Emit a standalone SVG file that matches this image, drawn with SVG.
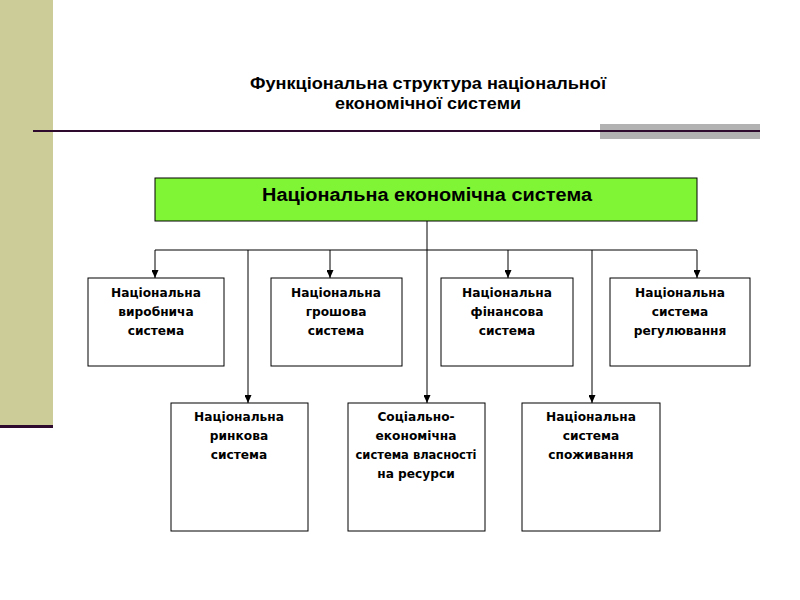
<svg xmlns="http://www.w3.org/2000/svg" width="800" height="600" viewBox="0 0 800 600">
<style>
.box{fill:#fff;stroke:#000;stroke-width:1}
.t{font-family:"DejaVu Sans","Liberation Sans",sans-serif;font-weight:bold;font-size:12.2px;text-anchor:middle;fill:#000}
.title{font-family:"Liberation Sans",Arial,sans-serif;font-weight:bold;font-size:16px;text-anchor:middle;fill:#000}
.c{stroke:#000;stroke-width:1;fill:none}
</style>
<defs>
<marker id="ah" markerWidth="8" markerHeight="7" refX="8" refY="3.5" orient="auto" markerUnits="userSpaceOnUse" viewBox="0 0 8 7">
<path d="M0,0 L8,3.5 L0,7 z" fill="#000"/>
</marker>
</defs>
<rect width="800" height="600" fill="#fff"/>
<rect x="0" y="0" width="53" height="425" fill="#CCCC99"/>
<rect x="0" y="425" width="53" height="3" fill="#2E0A2E"/>
<rect x="600" y="124" width="160" height="15" fill="#B2B2B2"/>
<rect x="33" y="130" width="727" height="2" fill="#2E0A2E"/>
<text class="title" x="428" y="89" textLength="356" lengthAdjust="spacingAndGlyphs">Функціональна структура національної</text>
<text class="title" x="428" y="109" textLength="186" lengthAdjust="spacingAndGlyphs">економічної системи</text>
<g id="connectors">
<path class="c" d="M427,221 V250 M155,250 H697"/>
<path class="c" d="M155,250 V278" marker-end="url(#ah)"/>
<path class="c" d="M330,250 V278" marker-end="url(#ah)"/>
<path class="c" d="M508,250 V278" marker-end="url(#ah)"/>
<path class="c" d="M697,250 V278" marker-end="url(#ah)"/>
<path class="c" d="M248,250 V403" marker-end="url(#ah)"/>
<path class="c" d="M427,250 V403" marker-end="url(#ah)"/>
<path class="c" d="M592,250 V403" marker-end="url(#ah)"/>
</g>
<g id="root">
<rect x="155" y="178" width="542" height="43" fill="#80F535" stroke="#000" stroke-width="1"/>
<text x="427" y="201" font-family="Liberation Sans,Arial,sans-serif" font-weight="bold" font-size="18" text-anchor="middle" textLength="330" lengthAdjust="spacingAndGlyphs">Національна економічна система</text>
</g>
<g id="n1">
<rect class="box" x="88" y="278" width="136" height="88"/>
<text class="t" x="156" y="297">Національна</text>
<text class="t" x="156" y="316">виробнича</text>
<text class="t" x="156" y="335">система</text>
</g>
<g id="n2">
<rect class="box" x="271" y="278" width="131" height="88"/>
<text class="t" x="336" y="297">Національна</text>
<text class="t" x="336" y="316">грошова</text>
<text class="t" x="336" y="335">система</text>
</g>
<g id="n3">
<rect class="box" x="441" y="278" width="132" height="88"/>
<text class="t" x="507" y="297">Національна</text>
<text class="t" x="507" y="316">фінансова</text>
<text class="t" x="507" y="335">система</text>
</g>
<g id="n4">
<rect class="box" x="610" y="278" width="140" height="88"/>
<text class="t" x="680" y="297">Національна</text>
<text class="t" x="680" y="316">система</text>
<text class="t" x="680" y="335">регулювання</text>
</g>
<g id="n5">
<rect class="box" x="171" y="403" width="137" height="128"/>
<text class="t" x="239" y="421">Національна</text>
<text class="t" x="239" y="440">ринкова</text>
<text class="t" x="239" y="459">система</text>
</g>
<g id="n6">
<rect class="box" x="348" y="403" width="137" height="128"/>
<text class="t" x="416" y="421">Соціально-</text>
<text class="t" x="416" y="440">економічна</text>
<text class="t" x="416" y="459" textLength="121" lengthAdjust="spacingAndGlyphs">система власності</text>
<text class="t" x="416" y="478">на ресурси</text>
</g>
<g id="n7">
<rect class="box" x="522" y="403" width="138" height="128"/>
<text class="t" x="591" y="421">Національна</text>
<text class="t" x="591" y="440">система</text>
<text class="t" x="591" y="459">споживання</text>
</g>
</svg>
